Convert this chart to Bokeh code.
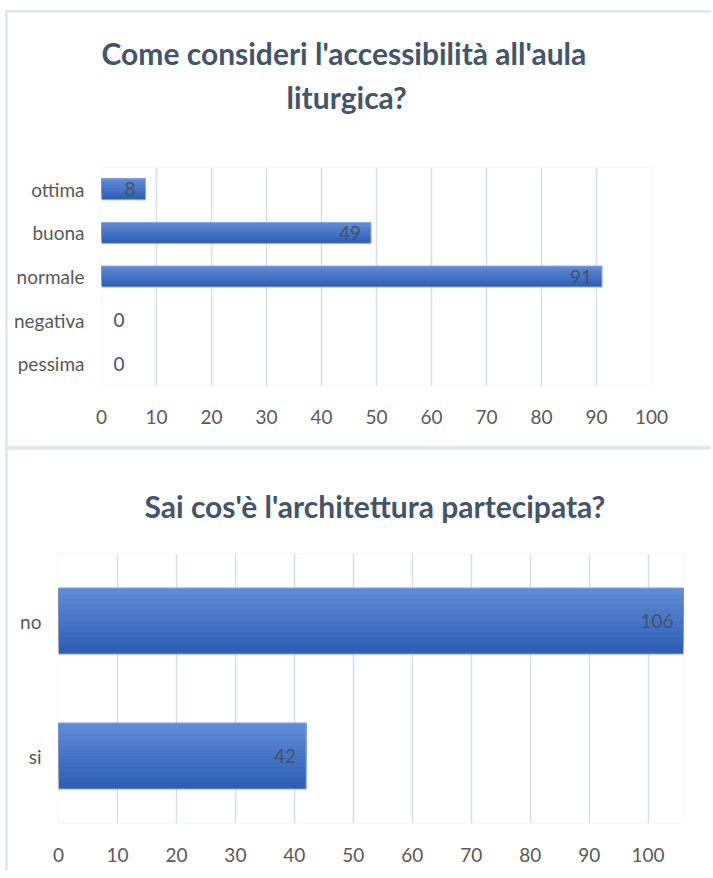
from bokeh.plotting import figure
from bokeh.models import ColumnDataSource, FactorRange, Range1d, FixedTicker, Title
from bokeh.transform import dodge
from bokeh.layouts import column
from bokeh.embed import file_html
from bokeh.resources import INLINE
from bokeh.core.properties import value

# ---------------- data ----------------
title1_lines = ["Come consideri l'accessibilità all'aula", "liturgica?"]
cats1 = ["pessima", "negativa", "normale", "buona", "ottima"]
vals1 = [0, 0, 91, 49, 8]

title2_lines = ["Sai cos'è l'architettura partecipata?"]
cats2 = ["si", "no"]
vals2 = [42, 106]

x_ticks = [0, 10, 20, 30, 40, 50, 60, 70, 80, 90, 100]

# ---------------- style ----------------
FONT = "Lato"
TITLE_COLOR = "#44546A"
AXIS_TEXT = "#595959"
VAL_TEXT = "#44546A"
GRID = "#D9DEE6"
TOP_C = (0x60, 0x8A, 0xD4)
BOT_C = (0x2E, 0x5E, 0xB6)
N_BANDS = 12


def lerp(a, b, t):
    return "#%02x%02x%02x" % tuple(int(round(a[i] + (b[i] - a[i]) * t)) for i in range(3))


def make_chart(cats, vals, title_lines, title_specs, spacer, width, height, borders,
               xmax, bar_h, margin, x_standoff):
    p = figure(width=width, height=height, output_backend="svg", toolbar_location=None,
               y_range=FactorRange(*cats, range_padding=0),
               x_range=Range1d(0, xmax),
               min_border_left=borders[0], min_border_right=borders[1],
               min_border_top=borders[2], min_border_bottom=borders[3])
    p.frame_align = False
    p.margin = margin
    p.outline_line_color = None
    p.background_fill_color = "white"
    p.border_fill_color = "white"

    src = ColumnDataSource(dict(
        cat=cats, val=vals,
        label=[str(v) for v in vals],
        align=["right" if v > 0 else "left" for v in vals],
        xoff=[-10 if v > 0 else 12 for v in vals],
        lalpha=[1.0 if v > 0 else 0.0 for v in vals],
    ))

    # gradient bars: overlapping bars, each covering from the bar top downward
    for k in range(N_BANDS):
        hk = bar_h * (N_BANDS - k) / N_BANDS
        off = bar_h / 2 - hk / 2
        col = lerp(BOT_C, TOP_C, k / (N_BANDS - 1))
        p.hbar(y=dodge("cat", off, range=p.y_range), left=0, right="val",
               height=hk, source=src, fill_color=col, line_color=None)
    p.hbar(y="cat", left=0, right="val", height=bar_h, source=src,
           fill_color=None, line_color="#8EA9DB", line_width=1, line_alpha="lalpha")

    p.text(x="val", y="cat", text="label", source=src, x_offset="xoff",
           text_align="align", text_baseline="middle",
           text_font=value(FONT), text_font_size="19px", text_color=VAL_TEXT)

    # axes
    p.xaxis.ticker = FixedTicker(ticks=x_ticks)
    for ax in (p.xaxis, p.yaxis):
        ax.axis_line_color = None
        ax.major_tick_line_color = None
        ax.minor_tick_line_color = None
        ax.major_tick_out = 0
        ax.major_tick_in = 0
        ax.major_label_text_font = FONT
        ax.major_label_text_font_size = "19px"
        ax.major_label_text_color = AXIS_TEXT
    p.xaxis.major_label_standoff = x_standoff
    p.yaxis.major_label_standoff = 17

    p.xgrid.ticker = FixedTicker(ticks=x_ticks)
    p.xgrid.grid_line_color = GRID
    p.xgrid.grid_line_width = 1.5
    p.ygrid.grid_line_color = None

    # titles: panels stack outward from the plot in the order they are added
    if spacer is not None:
        p.add_layout(Title(text=" ", standoff=spacer, text_font=FONT,
                           text_font_size="30px", text_color="white"), "above")
    for line, (off, so) in zip(reversed(title_lines), title_specs):
        p.add_layout(Title(text=line, align="left", offset=off, standoff=so,
                           text_font=FONT, text_font_style="bold",
                           text_font_size="30px", text_color=TITLE_COLOR), "above")
    return p


# (offset, standoff) for each title line, nearest-to-plot line first
p1 = make_chart(cats1, vals1, title1_lines, [(185, 9), (0, 3)], 10,
                width=704, height=434, borders=(94, 60, 155, 61),
                xmax=100, bar_h=0.48, margin=(2, 0, 3, 2), x_standoff=24)
p2 = make_chart(cats2, vals2, title2_lines, [(86, 60)], None,
                width=704, height=421, borders=(51, 28, 104, 47),
                xmax=106, bar_h=0.49, margin=(0, 0, 0, 2), x_standoff=24)

layout = column(p1, p2, spacing=0, margin=(10, 0, 0, 5),
                styles={"background-color": "#E3E7EC"})

open("out.html", "w").write(file_html(layout, INLINE))
